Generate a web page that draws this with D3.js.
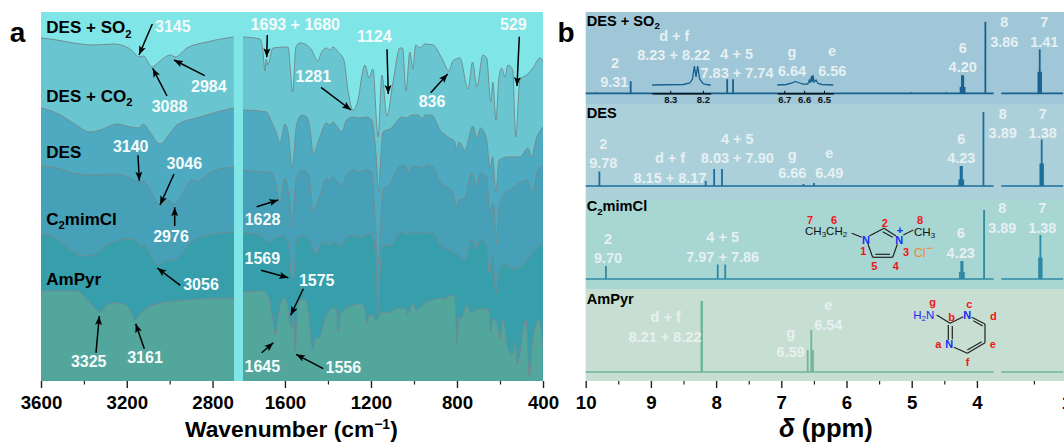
<!DOCTYPE html>
<html>
<head>
<meta charset="utf-8">
<script src="https://cdn.jsdelivr.net/npm/d3@7"></script>
<style>
html, body { margin: 0; padding: 0; background: #fff; overflow: hidden; }
svg { display: block; }
text { font-family: "Liberation Sans", Arial, sans-serif; }
</style>
</head>
<body>
<div id="fig"></div>
<script>
// ---- panel a: FTIR, [wavenumber, level] ----
var irSo2Left = [[3600,343],[3527,341],[3449,338],[3355,336],[3262,337],[3192,333],[3169,329],[3145,324],[3122,325],[3083,314],[3044,320],[2997,326],[2974,324],[2919,333],[2826,339],[2701,344]];
var irCo2Left = [[3600,273],[3527,268],[3449,258],[3371,249],[3324,251],[3246,257],[3184,254],[3145,253],[3122,257],[3099,251],[3044,237],[2997,248],[2966,256],[2857,264],[2779,269],[2701,273]];
var irDesLeft = [[3600,215],[3527,213],[3449,208],[3355,206],[3262,207],[3192,204],[3145,199],[3122,200],[3083,188],[3044,176],[3005,181],[2979,177],[2943,186],[2896,201],[2873,199],[2810,209],[2701,214]];
var irMimLeft = [[3600,147],[3542,144],[3480,134],[3402,125],[3355,126],[3293,136],[3200,142],[3161,141],[3137,134],[3119,136],[3091,126],[3056,116],[3013,121],[2982,121],[2950,126],[2888,141],[2795,147],[2701,149]];
var irPyrLeft = [[3600,90],[3433,90],[3394,84],[3355,74],[3324,69],[3293,76],[3262,78],[3215,77],[3184,71],[3161,61],[3130,69],[3075,76],[2966,80],[2857,82],[2701,83]];

var irSo2Right = [[1795,344],[1716,342],[1702,329],[1693,310],[1687,322],[1680,316],[1656,333],[1586,334],[1564,289],[1549,334],[1530,338],[1499,336],[1476,331],[1448,320],[1429,329],[1406,333],[1391,331],[1377,334],[1353,329],[1326,321],[1307,291],[1284,271],[1260,281],[1243,304],[1228,316],[1209,303],[1191,312],[1167,244],[1149,306],[1126,265],[1098,298],[1065,333],[1053,333],[1037,290],[1019,329],[1005,312],[992,336],[972,333],[949,337],[912,336],[871,323],[837,310],[819,320],[786,323],[749,292],[727,319],[708,294],[679,326],[662,323],[643,279],[633,299],[619,261],[605,303],[592,313],[577,304],[563,316],[541,311],[527,244],[507,301],[470,307],[447,313],[414,323],[400,319]];
var irCo2Right = [[1795,271],[1685,269],[1670,263],[1642,249],[1623,238],[1600,257],[1585,248],[1566,213],[1546,256],[1522,266],[1499,264],[1484,253],[1468,227],[1453,234],[1437,244],[1406,258],[1391,256],[1377,259],[1353,253],[1336,249],[1313,261],[1284,264],[1260,263],[1220,264],[1197,261],[1177,228],[1164,189],[1155,221],[1144,249],[1104,253],[1081,259],[1057,264],[1034,263],[1011,266],[981,266],[959,262],[949,266],[918,266],[879,251],[842,244],[809,239],[801,231],[790,239],[763,231],[726,255],[707,243],[690,253],[662,241],[647,213],[634,224],[619,189],[604,221],[563,224],[507,224],[470,233],[453,224],[430,243],[400,254]];
var irDesRight = [[1795,211],[1685,209],[1670,209],[1647,201],[1623,179],[1600,203],[1588,194],[1572,168],[1566,154],[1561,168],[1546,204],[1522,211],[1499,209],[1484,199],[1468,169],[1453,176],[1437,186],[1406,203],[1391,201],[1377,204],[1353,198],[1336,196],[1313,206],[1284,211],[1260,209],[1220,211],[1197,209],[1182,168],[1167,117],[1152,168],[1144,191],[1104,199],[1081,211],[1065,215],[1042,216],[1028,208],[1003,215],[981,214],[958,213],[941,216],[912,214],[879,199],[848,194],[819,189],[801,173],[790,181],[763,183],[732,208],[708,194],[693,208],[662,204],[647,168],[634,178],[627,173],[619,136],[604,174],[587,184],[540,193],[477,201],[447,189],[424,211],[400,215]];
var irMimRight = [[1795,148],[1716,146],[1670,139],[1639,144],[1609,145],[1586,139],[1569,104],[1560,104],[1546,142],[1516,145],[1484,141],[1470,131],[1451,127],[1437,136],[1414,138],[1391,136],[1377,139],[1353,136],[1336,134],[1313,144],[1284,146],[1251,144],[1205,147],[1191,144],[1177,119],[1167,66],[1155,119],[1144,135],[1104,136],[1081,144],[1057,149],[1034,146],[1011,149],[981,149],[949,147],[912,149],[879,136],[833,131],[795,126],[763,121],[732,142],[708,131],[693,141],[662,136],[650,107],[634,126],[619,87],[604,109],[577,117],[540,112],[493,116],[453,127],[424,134],[400,137]];
var irPyrRight = [[1795,89],[1701,90],[1670,81],[1656,59],[1643,46],[1633,62],[1608,83],[1592,79],[1577,57],[1567,54],[1561,66],[1553,30],[1538,79],[1507,82],[1487,62],[1473,31],[1453,44],[1442,42],[1414,62],[1383,72],[1363,73],[1353,49],[1341,66],[1306,74],[1243,77],[1228,72],[1220,57],[1209,66],[1189,66],[1177,60],[1150,69],[1127,68],[1081,72],[1042,73],[1030,67],[1003,77],[992,71],[941,79],[894,82],[871,83],[865,82],[825,86],[809,84],[801,36],[790,64],[781,62],[754,76],[732,68],[701,72],[654,72],[643,49],[634,62],[615,59],[600,41],[587,61],[561,31],[540,27],[530,39],[520,17],[479,61],[464,4],[446,44],[418,62],[402,34]];

var irLayers = [
  {name: "so2", left: irSo2Left, right: irSo2Right, fill: "#69c6d0"},
  {name: "co2", left: irCo2Left, right: irCo2Right, fill: "#4daac0"},
  {name: "des", left: irDesLeft, right: irDesRight, fill: "#46a0b8"},
  {name: "mim", left: irMimLeft, right: irMimRight, fill: "#379eab"},
  {name: "pyr", left: irPyrLeft, right: irPyrRight, fill: "#53a69c"}
];

var irMajorLeft = [3600, 3200, 2800];
var irMinorLeft = [3400, 3000];
var irMajorRight = [1600, 1200, 800, 400];
var irMinorRight = [1400, 1000, 600];

// ---- panel b: NMR sticks, [ppm, height] ----
var nmrSo2 = [[9.85,1],[9.31,12],[7.83,14],[7.74,14],[5.01,1],[4.47,1],[4.25,6.5],[4.23,18],[4.21,18],[4.19,6.5],[3.87,71.5]];
var nmrSo2Far = [[1.43,21.5],[1.41,44],[1.39,21.5]];
var nmrDes = [[9.79,14.5],[8.16,5],[8.03,17],[7.91,17],[6.66,2],[6.5,3],[4.27,6.5],[4.25,20],[4.23,20],[4.21,6.5],[3.9,74]];
var nmrDesFar = [[1.4,22.5],[1.38,46.5],[1.36,22.5]];
var nmrMim = [[9.69,13],[7.975,14.5],[7.86,14.5],[4.26,7],[4.24,18],[4.22,18],[4.2,7],[3.89,69]];
var nmrMimFar = [[1.42,21.5],[1.4,44],[1.38,21.5]];
var nmrPyr = [[8.225,71],[8.215,71],[6.595,22],[6.54,42],[6.515,22]];
var nmrPyrFar = [];

var inset1 = [[8.356,0],[8.26,0.5],[8.24,2],[8.232,6],[8.226,19],[8.221,8],[8.216,19],[8.21,6],[8.2,1.5],[8.19,0.5],[8.176,0]];
var inset2 = [[6.735,0],[6.69,0.5],[6.66,2],[6.645,3.5],[6.63,2.5],[6.605,0.8],[6.582,1],[6.573,5],[6.568,2],[6.563,9],[6.559,3],[6.555,10],[6.55,3],[6.54,5],[6.53,1.5],[6.51,0.5],[6.453,0]];
var inset1Ticks = [8.3, 8.2];
var inset2Ticks = [6.7, 6.6, 6.5];

var nmrMajor = [10, 9, 8, 7, 6, 5, 4];
var nmrMinor = [9.5, 8.5, 7.5, 6.5, 5.5, 4.5];

var nmrBands = [
  {base: 93.3, top: 12, bottom: 104, bg: "#9fc7d7", color: "#18608f", near: nmrSo2, far: nmrSo2Far},
  {base: 186, top: 104, bottom: 199, bg: "#abd0da", color: "#1a6e9b", near: nmrDes, far: nmrDesFar},
  {base: 279, top: 199, bottom: 289, bg: "#a7d6d3", color: "#2f88a4", near: nmrMim, far: nmrMimFar},
  {base: 372, top: 289, bottom: 381, bg: "#c6dfd2", color: "#70b598", near: nmrPyr, far: nmrPyrFar}
];

var width = 1064, height = 444;
var svg = d3.select("#fig").append("svg").attr("width", width).attr("height", height);

// arrow head used by all the panel a pointers
svg.append("defs").append("marker")
    .attr("id", "head")
    .attr("markerUnits", "userSpaceOnUse")
    .attr("markerWidth", 10).attr("markerHeight", 8)
    .attr("refX", 9).attr("refY", 4)
    .attr("orient", "auto")
  .append("path")
    .attr("d", "M0,0.5 L9,4 L0,7.5 L2,4 Z")
    .attr("fill", "#000");

function label(text, x, y, size, color, weight, anchor) {
    return svg.append("text")
        .attr("x", x).attr("y", y)
        .attr("font-size", size)
        .attr("font-weight", weight || "bold")
        .attr("fill", color)
        .attr("text-anchor", anchor || "middle")
        .text(text);
}

// text with a lowered "2" like DES + SO2
function subLabel(before, sub, after, x, y, size, color) {
    var t = svg.append("text").attr("x", x).attr("y", y)
        .attr("font-size", size).attr("font-weight", "bold").attr("fill", color);
    t.append("tspan").text(before);
    t.append("tspan").attr("font-size", size * 0.66).attr("dy", size * 0.25).text(sub);
    if (after) t.append("tspan").attr("dy", -size * 0.25).text(after);
    return t;
}

// ---------------- panel a ----------------
var irBottom = 381, irTop = 12;
var irY = d3.scaleLinear().domain([0, 369]).range([irBottom, irTop]);
var irXLeft = d3.scaleLinear().domain([3600, 2700]).range([41, 234]);
var irXRight = d3.scaleLinear().domain([1795, 400]).range([243, 543]);

svg.append("rect").attr("x", 41).attr("y", irTop).attr("width", 502).attr("height", irBottom - irTop).attr("fill", "#7fe5e6");

function drawIr(data, xScale, fill) {
    var area = d3.area().x(function (d) { return xScale(d[0]); }).y0(irBottom).y1(function (d) { return irY(d[1]); }).curve(d3.curveMonotoneX);
    var line = d3.line().x(function (d) { return xScale(d[0]); }).y(function (d) { return irY(d[1]); }).curve(d3.curveMonotoneX);
    svg.append("path").datum(data).attr("d", area).attr("fill", fill);
    svg.append("path").datum(data).attr("d", line).attr("fill", "none").attr("stroke", "#718d92").attr("stroke-width", 1);
}

irLayers.forEach(function (layer) {
    drawIr(layer.left, irXLeft, layer.fill);
    drawIr(layer.right, irXRight, layer.fill);
});

function drawAxis(scale, major, minor, y, size) {
    var g = svg.append("g").attr("transform", "translate(0," + y + ")")
        .call(d3.axisBottom(scale).tickValues(major).tickSize(7).tickPadding(7.5).tickFormat(d3.format("d")));
    g.select(".domain").remove();
    g.selectAll("line").attr("stroke", "#222").attr("stroke-width", 1.4);
    g.selectAll("text").attr("font-size", size).attr("font-weight", "bold").attr("fill", "#000")
        .attr("font-family", "Liberation Sans");
    var m = svg.append("g").attr("transform", "translate(0," + y + ")")
        .call(d3.axisBottom(scale).tickValues(minor).tickSize(3.5).tickFormat(""));
    m.select(".domain").remove();
    m.selectAll("line").attr("stroke", "#222").attr("stroke-width", 1.2);
}

drawAxis(irXLeft, irMajorLeft, irMinorLeft, irBottom, 18.7);
drawAxis(irXRight, irMajorRight, irMinorRight, irBottom, 18.7);

// pointers: tail x, tail y, tip x, tip y
var pointers = [
    [152.3,24,139,55],[204.7,75.7,174,60],[167,96,152.7,68.3],[138,155.3,139.3,180.7],
    [174,174,160,205],[174.7,226,174.7,207.3],[180.3,285.3,157.3,268],[96,352.7,99.3,316],
    [144.3,348.7,135.7,323.7],[267.3,35,266.7,57.3],[387,49.3,388.3,94],[321,87.3,351,110],
    [430.7,92.7,447.7,74],[519.3,36.7,517,86],[256.7,206.7,278.3,200],[261,270.3,288.3,277.7],
    [303.3,288.7,290.7,315.3],[261.7,352.7,273.3,342.7],[323.3,368.7,296,354.3]
];
svg.append("g").selectAll("line").data(pointers).enter().append("line")
    .attr("x1", function (d) { return d[0]; }).attr("y1", function (d) { return d[1]; })
    .attr("x2", function (d) { return d[2]; }).attr("y2", function (d) { return d[3]; })
    .attr("stroke", "#000").attr("stroke-width", 1.5)
    .attr("marker-end", "url(#head)");

var irWhite = "#f4fbfb", irSize = 16;
label("3145", 172.8, 31.7, irSize, irWhite);
label("2984", 208.8, 91.7, irSize, irWhite);
label("3088", 169.5, 111.7, irSize, irWhite);
label("3140", 130.7, 151.7, irSize, irWhite);
label("3046", 184.3, 168.7, irSize, irWhite);
label("2976", 171, 242, irSize, irWhite);
label("3056", 201, 290.3, irSize, irWhite);
label("3325", 88.7, 367, irSize, irWhite);
label("3161", 145, 363.3, irSize, irWhite);
label("1693 + 1680", 295.3, 30, irSize, irWhite);
label("1124", 374.3, 42.3, irSize, irWhite);
label("1281", 313.3, 82, irSize, irWhite);
label("836", 432, 106.7, irSize, irWhite);
label("529", 513.3, 30, irSize, irWhite);
label("1628", 262.5, 224.7, irSize, irWhite);
label("1569", 262.3, 263.7, irSize, irWhite);
label("1575", 316.7, 286, irSize, irWhite);
label("1645", 262.3, 372, irSize, irWhite);
label("1556", 343.3, 373, irSize, irWhite);

subLabel("DES + SO", "2", "", 46.3, 33.3, 17, "#000");
subLabel("DES + CO", "2", "", 46.3, 101.7, 17, "#000");
label("DES", 46.3, 158.3, 17, "#000", "bold", "start");
subLabel("C", "2", "mimCl", 46.3, 225, 17, "#000");
label("AmPyr", 46.3, 285.3, 17, "#000", "bold", "start");

label("a", 17.5, 41.7, 28, "#000");
var irTitle = label("Wavenumber (cm", 185, 437, 22.8, "#000", "bold", "start");
irTitle.append("tspan").attr("font-size", 14).attr("dy", -8).text("\u22121");
irTitle.append("tspan").attr("dy", 8).text(")");

// ---------------- panel b ----------------
var nmrXNear = d3.scaleLinear().domain([10, 3.744]).range([585.7, 993.6]);
var nmrXFar = d3.scaleLinear().domain([2, 0.5]).range([1001.3, 1099]);

nmrBands.forEach(function (band) {
    svg.append("rect").attr("x", 585.7).attr("y", band.top)
        .attr("width", width - 585.7).attr("height", band.bottom - band.top).attr("fill", band.bg);
});

function drawSticks(band, xScale, data, domain) {
    var y = d3.scaleLinear().domain([0, 90]).range([band.base, band.base - 90]);
    var line = d3.line().x(function (d) { return xScale(d[0]); }).y(function (d) { return y(d[1]); });
    svg.append("path").datum([[domain[0], 0], [domain[1], 0]]).attr("d", line)
        .attr("fill", "none").attr("stroke", band.color).attr("stroke-width", 1.7);
    svg.append("g").selectAll("path").data(data).enter().append("path")
        .attr("d", function (d) { return line([[d[0], 0], d]); })
        .attr("fill", "none").attr("stroke", band.color).attr("stroke-width", 1.8);
}

nmrBands.forEach(function (band) {
    drawSticks(band, nmrXNear, band.near, nmrXNear.domain());
    drawSticks(band, nmrXFar, band.far, [2, 1.05]);
});

function drawInset(data, ticks, domain, range) {
    var x = d3.scaleLinear().domain(domain).range(range);
    var y = d3.scaleLinear().domain([0, 90]).range([85, -5]);
    svg.append("path").datum(data)
        .attr("d", d3.line().x(function (d) { return x(d[0]); }).y(function (d) { return y(d[1]); }))
        .attr("fill", "none").attr("stroke", "#18608f").attr("stroke-width", 1.3);
    var g = svg.append("g").attr("transform", "translate(0,93.3)")
        .call(d3.axisBottom(x).tickValues(ticks).tickSizeInner(-2.5).tickSizeOuter(0).tickPadding(3).tickFormat(d3.format(".1f")));
    g.select(".domain").attr("stroke", "#000").attr("stroke-width", 1.3);
    g.selectAll("line").attr("stroke", "#000").attr("stroke-width", 1);
    g.selectAll("text").attr("font-size", 9.5).attr("font-weight", "bold").attr("fill", "#111")
        .attr("font-family", "Liberation Sans");
}
drawInset(inset1, inset1Ticks, [8.356, 8.176], [652, 710.7]);
drawInset(inset2, inset2Ticks, [6.735, 6.453], [777.3, 833.3]);

drawAxis(nmrXNear, nmrMajor, nmrMinor, irBottom, 18.7);
drawAxis(nmrXFar, [1], [1.5], irBottom, 18.7);

var nmrWhite = "#e6f0f2", nmrSize = 14.5;
function nmr(text, x, y) { label(text, x, y, nmrSize, nmrWhite); }

nmr("d + f", 674.3, 40.7);
nmr("8.23 + 8.22", 673.7, 60);
nmr("2", 615, 67.7);
nmr("9.31", 614.3, 87.3);
nmr("4 + 5", 736.7, 59);
nmr("7.83 + 7.74", 737, 78.3);
nmr("g", 792, 57.3);
nmr("6.64", 792, 76);
nmr("e", 832, 56);
nmr("6.56", 832.3, 76);
nmr("6", 962.7, 52.7);
nmr("4.20", 962.7, 72.3);
nmr("8", 1004.3, 27.3);
nmr("3.86", 1004.3, 46.7);
nmr("7", 1044.3, 27.3);
nmr("1.41", 1044.3, 46.7);

nmr("2", 603.3, 149);
nmr("9.78", 603.3, 168.3);
nmr("d + f", 670, 163.3);
nmr("8.15 + 8.17", 670, 182.7);
nmr("4 + 5", 737.3, 144);
nmr("8.03 + 7.90", 737.3, 163);
nmr("g", 792.3, 160);
nmr("6.66", 792.3, 177.7);
nmr("e", 829.3, 158.3);
nmr("6.49", 829.3, 177.7);
nmr("6", 961.3, 144);
nmr("4.23", 961.3, 163.3);
nmr("8", 1002.7, 119.3);
nmr("3.89", 1002.7, 138.3);
nmr("7", 1042.7, 119.3);
nmr("1.38", 1042.7, 138.3);

nmr("2", 608, 244.3);
nmr("9.70", 608, 263.3);
nmr("4 + 5", 722.7, 241.7);
nmr("7.97 + 7.86", 722.7, 261.7);
nmr("6", 960.7, 238.3);
nmr("4.23", 960.7, 258.3);
nmr("8", 1002.3, 213.3);
nmr("3.89", 1002.3, 232.7);
nmr("7", 1042.3, 213.3);
nmr("1.38", 1042.3, 232.7);

nmr("d + f", 665.7, 321.7);
nmr("8.21 + 8.22", 665, 341.7);
nmr("g", 790.7, 338.3);
nmr("6.59", 790.7, 356.7);
nmr("e", 828.3, 310);
nmr("6.54", 828.3, 330);

subLabel("DES + SO", "2", "", 586.7, 25.7, 14.6, "#000");
label("DES", 586.7, 118.3, 14.6, "#000", "bold", "start");
subLabel("C", "2", "mimCl", 586.7, 211, 14.6, "#000");
label("AmPyr", 586.7, 304, 14.6, "#000", "bold", "start");

label("b", 566, 41.7, 28, "#000");
var delta = svg.append("text").attr("x", 779).attr("y", 437).attr("font-size", 25.6).attr("font-weight", "bold");
delta.append("tspan").attr("font-style", "italic").text("\u03b4");
delta.append("tspan").text(" (ppm)");

// ---------------- molecules ----------------
var bonds = [
    [851.7,233.3,861.7,237.3],[869.3,236,884,228.3],[884,228.3,896,236],[882.7,231.7,892.7,237.3],
    [897.3,244.3,892.7,257.3],[892.7,257.3,872.7,257.3],[890,254.3,875.3,254.3],[872.7,257.3,868,244.3],
    [903.3,235,913.3,230],
    [936.7,315,950,323.3],[950,323.3,963.3,316.7],[971.7,317.3,985,324],[973.3,320.7,982.7,326],
    [985,324,985,342.7],[985,342.7,967.3,353.3],[981.7,341.7,967.3,350],[967.3,353.3,954,347.3],
    [948.3,340,948.3,325],[952.3,339.3,952.3,326]
];
svg.append("g").selectAll("line").data(bonds).enter().append("line")
    .attr("x1", function (d) { return d[0]; }).attr("y1", function (d) { return d[1]; })
    .attr("x2", function (d) { return d[2]; }).attr("y2", function (d) { return d[3]; })
    .attr("stroke", "#222").attr("stroke-width", 1.2);

function atom(text, x, y, color) { label(text, x, y, 11, color, "bold"); }
var red = "#f01414", blue = "#1a2cf0";

var ethyl = svg.append("text").attr("x", 805).attr("y", 235).attr("font-size", 11.5).attr("fill", "#111");
ethyl.append("tspan").text("CH");
ethyl.append("tspan").attr("font-size", 8).attr("dy", 2).text("3");
ethyl.append("tspan").attr("dy", -2).text("CH");
ethyl.append("tspan").attr("font-size", 8).attr("dy", 2).text("2");
var methyl = svg.append("text").attr("x", 914).attr("y", 236).attr("font-size", 11.5).attr("fill", "#111");
methyl.append("tspan").text("CH");
methyl.append("tspan").attr("font-size", 8).attr("dy", 2).text("3");

atom("N", 866, 244, blue);
atom("N", 899.3, 244, blue);
atom("+", 900, 234, blue);
atom("7", 810, 224, red);
atom("6", 834, 224, red);
atom("2", 884.7, 227, red);
atom("8", 920, 224, red);
atom("1", 863.3, 255, red);
atom("3", 906, 256, red);
atom("5", 874.3, 270, red);
atom("4", 895.7, 270, red);
var chloride = svg.append("text").attr("x", 914).attr("y", 257.3).attr("font-size", 12).attr("fill", "#f28a1e");
chloride.append("tspan").text("Cl");
chloride.append("tspan").attr("dy", -5).attr("dx", 1).text("\u2212");

var amine = svg.append("text").attr("x", 913.3).attr("y", 319.3).attr("font-size", 11.5).attr("fill", blue);
amine.append("tspan").text("H");
amine.append("tspan").attr("font-size", 8).attr("dy", 2).text("2");
amine.append("tspan").attr("dy", -2).text("N");
atom("N", 967.3, 319, blue);
atom("N", 949.3, 348, blue);
atom("g", 932.7, 306.3, red);
atom("b", 951.7, 321, red);
atom("c", 969.3, 308, red);
atom("d", 993.3, 320, red);
atom("a", 938.3, 348, red);
atom("e", 992.7, 348, red);
atom("f", 967.7, 366, red);
</script>
</body>
</html>
